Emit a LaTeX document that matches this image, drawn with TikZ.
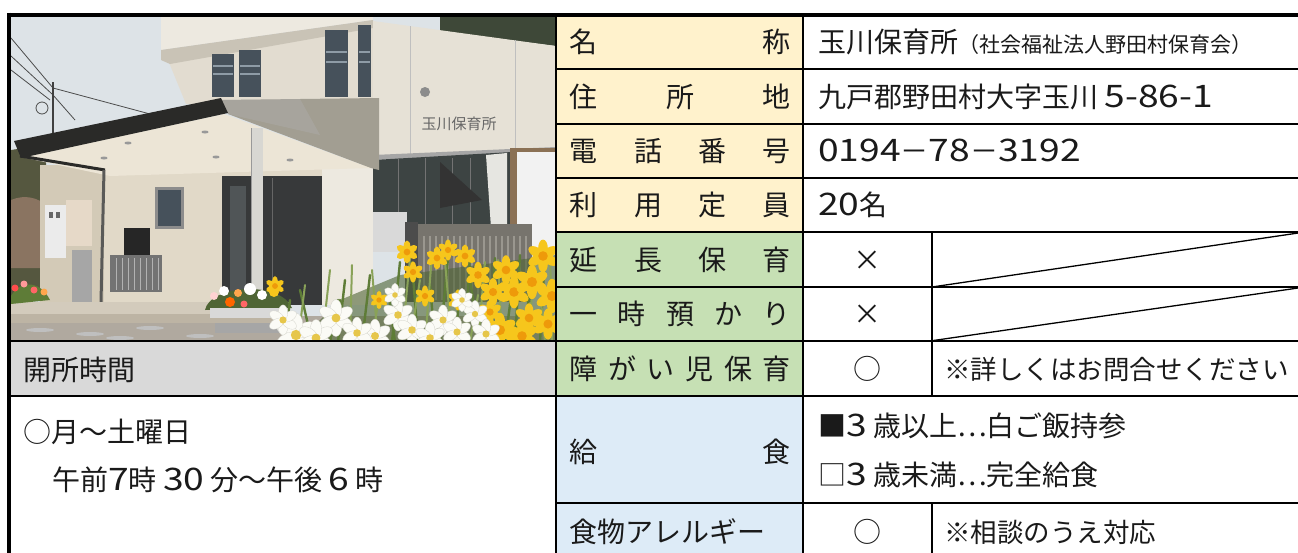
\documentclass[tikz,border=0pt]{standalone}
\usepackage{fontspec}
\setmainfont{Noto Sans CJK JP}
\newfontfamily\dgfont[FakeStretch=1.2]{Noto Sans CJK JP}
\newcommand\dgt[1]{{\dgfont\fontsize{31}{31}\selectfont #1}}
\definecolor{beige}{HTML}{FFF2CC}
\definecolor{lgreen}{HTML}{C6E0B4}
\definecolor{lblue}{HTML}{DDEBF7}
\definecolor{lgray}{HTML}{D9D9D9}
\definecolor{ink}{HTML}{1A1A1A}
\definecolor{csky}{HTML}{DDE3E7}
\definecolor{chill}{HTML}{55573F}
\definecolor{chillbrown}{HTML}{8A7461}
\definecolor{cwallA}{HTML}{E2DCD0}
\definecolor{cwallB}{HTML}{EDE9E0}
\definecolor{csoffit}{HTML}{C9C3B6}
\definecolor{cwallR}{HTML}{E6E1D6}
\definecolor{cwallL}{HTML}{E1D9C8}
\definecolor{cwallShade}{HTML}{D3CAB7}
\definecolor{cwin}{HTML}{46515B}
\definecolor{cpane}{HTML}{8E9BA6}
\definecolor{cglass}{HTML}{3D4443}
\definecolor{ccurtain}{HTML}{E6E6E1}
\definecolor{cframe}{HTML}{8B7155}
\definecolor{cgate}{HTML}{77746D}
\definecolor{cgatebar}{HTML}{9A978F}
\definecolor{cceiling}{HTML}{ECE5D6}
\definecolor{cslab}{HTML}{A29E92}
\definecolor{croof}{HTML}{2A2A28}
\definecolor{cdoor}{HTML}{37393A}
\definecolor{cdoorlight}{HTML}{505557}
\definecolor{cpillar}{HTML}{D8D7D2}
\definecolor{cpipe}{HTML}{5A5A58}
\definecolor{cground}{HTML}{B0A99F}
\definecolor{cstep}{HTML}{D3CBBC}
\definecolor{cstepfront}{HTML}{BDB4A4}
\definecolor{leafA}{HTML}{5E7C37}
\definecolor{leafB}{HTML}{89A258}
\definecolor{leafDark}{HTML}{4F6535}
\definecolor{dyellow}{HTML}{F6C61C}
\definecolor{dorange}{HTML}{EE9A0A}
\definecolor{dwhite}{HTML}{FBFBF6}
\definecolor{dwhiteedge}{HTML}{D5D5CC}
\definecolor{dcenter}{HTML}{E6C64A}
\definecolor{darktree}{HTML}{3E4838}
\begin{document}
\begin{tikzpicture}[x=1pt,y=-1pt,
  txt/.style={inner sep=0pt, anchor=west, text height=23pt, text depth=2pt, font=\fontsize{28}{34}\selectfont, text=ink},
  ctr/.style={txt, anchor=center},
  note/.style={txt, font=\fontsize{26.5}{32}\selectfont},
  rule/.style={line width=2pt, draw=black},
  midrule/.style={line width=2.6pt, draw=black},
  border/.style={line width=4pt, draw=black},
  diag/.style={line width=1.3pt, draw=black},
  wire/.style={line width=0.8pt, draw=black!70},
  leafa/.style={line width=2.4pt, draw=leafA, line cap=round},
  leafb/.style={line width=2pt, draw=leafB, line cap=round},
  ydaff/.pic={\foreach \a in {0,60,...,300}{\fill[dyellow,rotate=\a] (0,4) ellipse (2.4 and 4.2);}\fill[dorange] (0,0) circle (2.4);},
  wdaff/.pic={\foreach \a in {0,60,...,300}{\fill[dwhite,draw=dwhiteedge,line width=0.3pt,rotate=\a] (0,4) ellipse (2.6 and 4.4);}\fill[dcenter] (0,0) circle (2);}
]
\useasboundingbox (0,0) rectangle (1298,552);
\clip (0,0) rectangle (1298,552);
\fill[white] (0,0) rectangle (1298,552);

% ---------------- photo ----------------
\begin{scope}
\clip (11,16) rectangle (556,340);
\fill[csky] (11,16) rectangle (556,340);
% distant hills
\fill[chill] (11,150) -- (30,147) -- (46,158) -- (46,300) -- (11,300) -- cycle;
\fill[chillbrown] (11,200) .. controls (25,194) and (38,198) .. (46,205) -- (46,268) -- (11,268) -- cycle;
% wires and pole
\draw[wire] (11,38) -- (53,88);
\draw[wire] (11,56) -- (52,94);
\draw[wire] (11,70) -- (50,100);
\draw[wire] (53,88) -- (165,118);
\draw[wire] (53,95) -- (75,120);
\draw[wire] (42,108) circle (6);
\draw[line width=2.5pt, draw=black!75] (53,82) -- (53,138);
% upper block
\fill[cwallA] (168,60) -- (373,25) -- (373,104) -- (186,104) -- cycle;
\fill[cwallB] (161,16) -- (373,16) -- (373,20) -- (161,50) -- cycle;
\fill[csoffit] (161,50) -- (373,20) -- (373,28) -- (170,64) -- (161,60) -- cycle;
\fill[cwin] (212,54) rectangle (234,97);
\fill[cwin] (239,50) rectangle (261,97);
\fill[cwin] (325,30) rectangle (348,97);
\fill[cwin] (358,25) rectangle (371,97);
\foreach \yy in {66,74} {\draw[cpane, line width=1.5pt] (213,\yy) -- (233,\yy); \draw[cpane, line width=1.5pt] (240,\yy) -- (260,\yy);}
\foreach \yy in {52,62} {\draw[cpane, line width=1.5pt] (326,\yy) -- (347,\yy); \draw[cpane, line width=1.5pt] (359,\yy) -- (370,\yy);}
% right block
\fill[darktree] (440,16) -- (556,16) -- (556,46) -- (440,32) -- cycle;
\fill[cwallR] (373,21) -- (556,46) -- (556,152) -- (373,160) -- cycle;
\draw[line width=1pt, draw=black!25] (410,26) -- (410,158);
\draw[line width=1pt, draw=black!25] (515,40) -- (515,150);
\fill[black!45] (425,92) circle (5);
\node[font=\fontsize{15}{15}\selectfont, text=black!60, inner sep=0pt] (sign) at (459,124) {玉川保育所};
\fill[black!35] (373,155) -- (556,147) -- (556,152) -- (373,160) -- cycle;
% glass and right window
\fill[cglass] (373,160) -- (512,152) -- (512,228) -- (373,232) -- cycle;
\fill[ccurtain] (486,155) -- (507,153) -- (507,228) -- (491,228) -- cycle;
\foreach \xx in {398,425,452,470} {\draw[line width=1pt, draw=black!55] (\xx,158) -- (\xx,230);}
\fill[black!80] (440,162) -- (482,200) -- (440,208) -- cycle;
\fill[cframe] (510,148) rectangle (556,252);
\fill[white!95!black] (517,152) rectangle (556,250);
% AC and gate
\fill[black!15] (373,212) rectangle (407,252);
\fill[cgate] (405,224) rectangle (532,302);
\foreach \xx in {424,430,...,526} {\draw[cgatebar, line width=1.2pt] (\xx,236) -- (\xx,300);}
\fill[black!70] (405,222) rectangle (418,302);
% lower wall
\fill[cwallL] (40,165) rectangle (373,305);
\fill[cwallShade] (40,165) rectangle (104,305);
\fill[cwallB] (322,168) rectangle (373,305);
% canopy
\fill[cceiling] (21,157) -- (224,114) -- (371,168) -- (110,176) -- cycle;
\foreach \p in {(205,132),(128,143),(216,157),(290,160),(104,158)} {\fill[black!40] \p ellipse (3.5 and 1.5);}
\fill[cslab] (221,100) -- (379,98) -- (379,170) -- (371,168) -- (228,114) -- cycle;
\fill[black!30, opacity=0.35] (221,100) -- (300,99) -- (320,135) -- (228,114) -- cycle;
\fill[croof] (14,141) -- (221,98) -- (228,113) -- (21,158) -- cycle;
\draw[croof, line width=3pt] (20,156) -- (105,170);
% door and pillar
\fill[cdoor] (222,176) rectangle (322,305);
\fill[cdoorlight] (230,186) rectangle (246,300);
\draw[line width=1pt, draw=black!60] (272,178) -- (272,305);
\fill[cpillar] (251,128) rectangle (263,300);
\draw[line width=0.8pt, draw=black!40] (251,128) -- (251,300);
% small window
\fill[black!45] (155,187) rectangle (184,229);
\fill[cwin] (158,190) rectangle (181,226);
% drainpipe
\draw[cpipe, line width=3pt] (104,170) -- (101,302);
% meter boxes
\fill[white!92!black] (45,205) rectangle (66,258);
\fill[black!60] (49,212) rectangle (53,218);
\fill[black!60] (56,212) rectangle (60,218);
\fill[cwallB!85!brown] (66,200) rectangle (92,246);
\fill[black!35] (72,250) rectangle (92,302);
% cart
\fill[black!85] (124,228) rectangle (150,258);
\fill[black!55] (110,255) rectangle (162,292);
\foreach \xx in {116,122,...,158} {\draw[black!30, line width=0.8pt] (\xx,258) -- (\xx,290);}
% ground and step
\fill[cground] (11,316) rectangle (556,340);
\fill[cstep] (11,302) rectangle (290,316);
\fill[cstepfront] (11,314) rectangle (290,323);
\fill[black!35] (215,323) rectangle (300,333);
\foreach \p in {(40,330),(90,334),(150,328),(200,336),(120,338)} {\fill[black!25] \p ellipse (14 and 2);}
% left flowers
\fill[leafA] (11,296) .. controls (20,280) and (40,280) .. (50,300) -- (11,304) -- cycle;
\foreach \p/\c in {(15,288)/red!70!white, (24,284)/pink!80!red, (34,290)/red!60!white, (44,292)/orange!70!white} {\fill[\c] \p circle (3.5);}
% potted flowers
\fill[leafDark] (205,310) .. controls (210,285) and (280,280) .. (292,308) -- cycle;
\foreach \p/\c/\r in {(214,296)/pink!70!white/4, (224,291)/white/5, (230,302)/orange!80!red/5, (238,293)/orange!70!white/4, (250,289)/white/6, (262,295)/white/5, (274,292)/dyellow/5, (244,304)/red!60!white/3.5} {\fill[\c] \p circle (\r);}
\fill[white!85!black] (210,308) rectangle (290,318);
% daffodil leaves
\fill[leafDark, opacity=0.6] (300,340) -- (340,300) -- (400,275) -- (556,255) -- (556,340) -- cycle;
\foreach \a/\b/\c in {285/290/300, 312/300/290, 338/345/280, 362/370/275, 392/400/262, 418/412/262, 440/448/258, 465/470/255, 490/495/258, 515/520/255, 540/545/255, 330/338/300, 455/460/290, 505/512/290, 350/340/300, 395/388/290, 435/430/285, 480/470/280, 525/530/280} {\draw[leafa] (\a,342) -- (\b,\c);}
\foreach \a/\b/\c in {298/305/285, 322/330/270, 350/352/265, 378/372/270, 402/410/258, 425/432/255, 452/445/262, 478/485/262, 502/498/260, 528/535/258, 552/550/250, 470/478/295, 410/420/280, 372/380/290, 545/538/270} {\draw[leafb] (\a,342) -- (\b,\c);}
% yellow daffodils
\foreach \p/\s in {(407,252)/1.4, (413,272)/1.3, (437,258)/1.4, (448,250)/1.3, (465,256)/1.4, (478,275)/1.6, (493,292)/1.7, (506,270)/1.8, (514,292)/2.0, (532,282)/2.1, (543,256)/2.0, (552,296)/2.1, (425,296)/1.3, (500,330)/2.1, (522,336)/2.0, (275,286)/1.2, (379,300)/1.1, (529,318)/1.8, (490,312)/1.5, (458,300)/1.3, (548,324)/1.9} {\pic[scale=\s] at \p {ydaff};}
% white daffodils
\foreach \p/\s in {(336,318)/2.2, (296,335)/2.6, (316,338)/2.2, (398,315)/1.9, (412,330)/1.9, (443,320)/1.8, (457,332)/1.8, (475,314)/1.6, (486,334)/1.8, (375,336)/2.0, (430,338)/1.9, (357,333)/1.9, (283,320)/1.8, (395,295)/1.4, (462,300)/1.4} {\pic[scale=\s] at \p {wdaff};}
\end{scope}

% ---------------- table fills ----------------
\fill[beige] (556,14.5) rectangle (803,232);
\fill[lgreen] (556,232) rectangle (803,396);
\fill[lblue] (556,396) rectangle (803,560);
\fill[lgray] (11,340.7) rectangle (556,396);

% ---------------- rules ----------------
\foreach \yy in {69,124,178,232,287} {\draw[rule] (556,\yy) -- (1310,\yy);}
\draw[rule] (9,340.7) -- (1310,340.7);
\draw[rule] (9,396) -- (1310,396);
\draw[midrule] (556,503) -- (1310,503);
\draw[rule] (556,14.5) -- (556,560);
\draw[midrule] (803,14.5) -- (803,560);
\draw[rule] (932,232) -- (932,396);
\draw[rule] (932,503) -- (932,560);
\draw[diag] (932,287) -- (1305,232);
\draw[diag] (932,340.7) -- (1305,287);
\draw[border] (7,14.5) -- (1310,14.5);
\draw[border] (9,12.5) -- (9,560);

% ---------------- labels ----------------
\node[txt] (l1) at (569.5,41.8) {\hbox to 221pt{名\hfill 称}};
\node[txt] (l2) at (569.5,96.5) {\hbox to 221pt{住\hfill 所\hfill 地}};
\node[txt] (l3) at (569.5,151) {\hbox to 221pt{電\hfill 話\hfill 番\hfill 号}};
\node[txt] (l4) at (569.5,205) {\hbox to 221pt{利\hfill 用\hfill 定\hfill 員}};
\node[txt] (l5) at (569.5,259.5) {\hbox to 221pt{延\hfill 長\hfill 保\hfill 育}};
\node[txt] (l6) at (569.5,314) {\hbox to 221pt{一\hfill 時\hfill 預\hfill か\hfill り}};
\node[txt] (l7) at (569.5,368.5) {\hbox to 221pt{障\hfill が\hfill い\hfill 児\hfill 保\hfill 育}};
\node[txt] (l8) at (569.5,452) {\hbox to 221pt{給\hfill 食}};
\node[txt] (l9) at (569.5,532) {食物アレルギー};

% ---------------- values ----------------
\node[txt] (v1) at (818,41.8) {玉川保育所{\fontsize{21}{21}\selectfont （社会福祉法人野田村保育会）}};
\node[txt] (v2) at (818,96.5) {九戸郡野田村大字玉川 \dgt{5-86-1}};
\node[txt] (v3) at (818,151) {\dgt{0194}－\dgt{78}－\dgt{3192}};
\node[txt] (v4) at (818,205) {\dgt{20}名};
\node[ctr] (v5) at (867.5,259.5) {×};
\node[ctr] (v6) at (867.5,314) {×};
\node[ctr] (v7) at (867.5,368.5) {○};
\node[note] (n7) at (944,368.5) {※詳しくはお問合せください};
\node[txt] (v8a) at (818,426) {■\dgt{3} 歳以上…白ご飯持参};
\node[txt] (v8b) at (818,475) {□\dgt{3} 歳未満…完全給食};
\node[ctr] (v9) at (867.5,532) {○};
\node[note] (n9) at (944,532) {※相談のうえ対応};

% ---------------- left ----------------
\node[txt] (h1) at (23,370) {開所時間};
\node[txt] (h2) at (23,432) {○月～土曜日};
\node[txt] (h3) at (52,480) {午前\dgt{7}時 \dgt{30} 分～午後 \dgt{6} 時};
\end{tikzpicture}
\end{document}
